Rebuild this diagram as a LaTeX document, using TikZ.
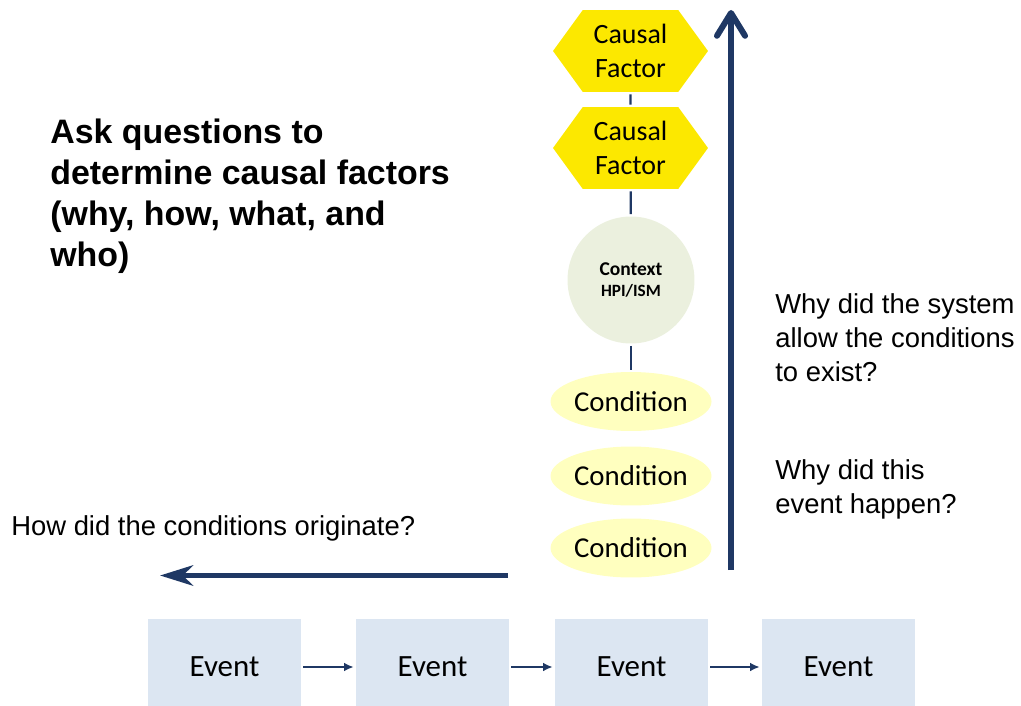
\documentclass[tikz,border=0pt]{standalone}
\usepackage{fontspec}
\setmainfont{Carlito}
\newfontfamily\arialfont{Liberation Sans}
\usetikzlibrary{arrows.meta,shapes.geometric,shapes.symbols,positioning}
\definecolor{navy}{RGB}{31,56,100}
\definecolor{eventblue}{RGB}{220,230,242}
\definecolor{factoryellow}{RGB}{252,232,0}
\definecolor{condyellow}{RGB}{255,255,191}
\definecolor{contextgreen}{RGB}{235,240,222}

\begin{document}
\begin{tikzpicture}[
    x=0.02cm, y=-0.02cm,
    event/.style={rectangle, fill=eventblue, minimum width=3.06cm,
                  minimum height=1.92cm, font=\fontsize{17.6}{21}\selectfont},
    factor/.style={signal, signal to=east and west, signal pointer angle=108,
                   fill=factoryellow, minimum width=3.1cm, minimum height=1.64cm,
                   inner sep=0pt, align=center, font=\fontsize{15.9}{19.3}\selectfont},
    condition/.style={ellipse, fill=condyellow, minimum width=3.12cm,
                      minimum height=1.18cm, inner sep=0pt,
                      font=\fontsize{16.4}{19.3}\selectfont},
    context/.style={circle, fill=contextgreen, minimum size=2.54cm, align=center,
                    font=\bfseries\fontsize{11.1}{12.5}\selectfont},
    heading/.style={anchor=base west, align=left, inner sep=0pt,
                    font=\arialfont\bfseries\fontsize{19.3}{23.2}\selectfont},
    question/.style={anchor=base west, align=left, inner sep=0pt,
                     font=\arialfont\fontsize{15.6}{19.3}\selectfont},
    link/.style={draw=navy, line width=1.3pt, shorten <=1.2pt, shorten >=1.2pt},
    flow/.style={draw=navy, line width=1.7pt, shorten <=1.1pt, shorten >=1.1pt,
                 -{Latex[length=5.5pt, width=5pt]}},
    bigarrow/.style={draw=navy, line width=3.4pt}
]
    \useasboundingbox (0,0) rectangle (1021,706);

    % Events
    \node[event] (event1) at (224.5,667) {Event};
    \node[event] (event2) at (432.5,667) {Event};
    \node[event] (event3) at (631.5,667) {Event};
    \node[event] (event4) at (838.5,667) {Event};

    % Causal chain
    \node[factor] (factor1) at (630.5,51) {Causal\\Factor};
    \node[factor] (factor2) at (630.5,148) {Causal\\Factor};
    \node[context] (context) at (631,280) {Context\\{\fontsize{9.8}{12.5}\selectfont HPI/ISM}};
    \node[condition] (cond1) at (631,401.5) {Condition};
    \node[condition] (cond2) at (631,476) {Condition};
    \node[condition] (cond3) at (631,548) {Condition};

    % Texts (anchored at the baseline of the last line)
    \node[heading] (title) at (50,266) {Ask questions to\\determine causal factors\\(why, how, what, and\\who)};
    \node[question] (whysystem) at (775,381) {Why did the system\\allow the conditions\\to exist?};
    \node[question] (whyevent) at (775,513) {Why did this\\event happen?};
    \node[question] (howorigin) at (11,535) {How did the conditions originate?};

    % Links
    \draw[link] (factor1) -- (factor2);
    \draw[link] (factor2) -- (context);
    \draw[link] (context) -- (cond1);

    % Arrows
    \draw[flow] (event1) -- (event2);
    \draw[flow] (event2) -- (event3);
    \draw[flow] (event3) -- (event4);

    \coordinate (upstart) at (731,570);
    \coordinate (uptop) at (731,10);
    \draw[bigarrow, -{Straight Barb[length=13pt, width=16pt, round]}] (upstart) -- (uptop);

    \coordinate (leftstart) at (508,575.5);
    \coordinate (lefttip) at (160,575.5);
    \draw[bigarrow, -{Stealth[length=18.7pt, width=11.5pt, inset=5.7pt]}] (leftstart) -- (lefttip);
\end{tikzpicture}
\end{document}
